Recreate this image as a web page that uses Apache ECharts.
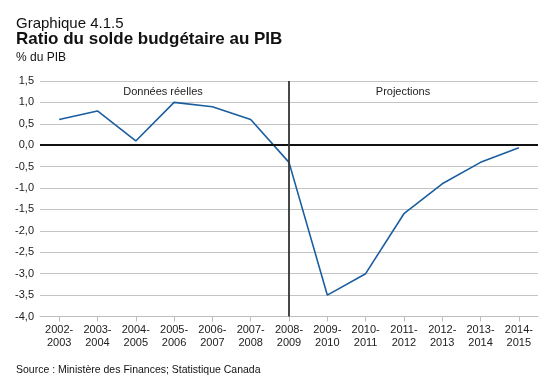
<!DOCTYPE html>
<html>
<head>
<meta charset="utf-8">
<script src="https://cdn.jsdelivr.net/npm/echarts@6/dist/echarts.min.js"></script>
<style>
html,body{margin:0;padding:0;background:#fff;}
#c{width:560px;height:386px;}
</style>
</head>
<body>
<div id="c"></div>
<script>
const categories = ['2002-\n2003','2003-\n2004','2004-\n2005','2005-\n2006','2006-\n2007','2007-\n2008','2008-\n2009','2009-\n2010','2010-\n2011','2011-\n2012','2012-\n2013','2013-\n2014','2014-\n2015'];
const ratioValues = [0.6, 0.8, 0.1, 1.0, 0.9, 0.6, -0.4, -3.5, -3.0, -1.6, -0.9, -0.4, -0.06];
const yMin = -4.0, yMax = 1.5, yStep = 0.5;
const dividerCategory = '2008-\n2009';
const titleMain = 'Graphique 4.1.5';
const titleSub = 'Ratio du solde budgétaire au PIB';
const unitLabel = '% du PIB';
const sourceText = 'Source : Ministère des Finances; Statistique Canada';
const leftNote = 'Données réelles';
const rightNote = 'Projections';

const font = '"Liberation Sans", Arial, sans-serif';
const chart = echarts.init(document.getElementById('c'), null, {renderer:'canvas'});
chart.setOption({
  animation: false,
  backgroundColor: '#fff',
  textStyle: {fontFamily: font},
  grid: {left: 40, right: 22, top: 81, bottom: 69.5, containLabel: false},
  xAxis: {
    type: 'category',
    data: categories,
    boundaryGap: true,
    axisLine: {show: true, onZero: false, lineStyle: {color: '#bdbdbd', width: 1}},
    axisTick: {show: true, alignWithLabel: true, length: 5, lineStyle: {color: '#bdbdbd'}},
    axisLabel: {color: '#222', fontSize: 11, lineHeight: 13, margin: 7, fontFamily: font, interval: 0},
    splitLine: {show: false}
  },
  yAxis: {
    type: 'value',
    min: yMin, max: yMax, interval: yStep,
    axisLine: {show: false},
    axisTick: {show: false},
    axisLabel: {color: '#222', fontSize: 11, margin: 6, fontFamily: font,
      formatter: v => v.toFixed(1).replace('.', ',')},
    splitLine: {show: true, lineStyle: {color: '#c4c4c4', width: 1}}
  },
  series: [{
    type: 'line',
    data: ratioValues,
    symbol: 'none',
    lineStyle: {color: '#1b5e9f', width: 1.6},
    z: 3,
    markLine: {
      silent: true,
      symbol: 'none',
      label: {show: false},
      data: [
        {yAxis: 0, lineStyle: {color: '#111', width: 2, type: 'solid'}},
        {xAxis: dividerCategory, lineStyle: {color: '#333', width: 1.8, type: 'solid'}}
      ]
    }
  }],
  graphic: [
    {type: 'text', left: 16, top: 16, style: {text: titleMain, font: '15px ' + font, fill: '#111'}},
    {type: 'text', left: 16, top: 31, style: {text: titleSub, font: 'bold 17px ' + font, fill: '#111'}},
    {type: 'text', left: 16, top: 52, style: {text: unitLabel, font: '12px ' + font, fill: '#111'}},
    {type: 'text', left: 16, top: 365, style: {text: sourceText, font: '10.5px ' + font, fill: '#111'}},
    {type: 'text', x: 163, y: 86, style: {text: leftNote, font: '11px ' + font, fill: '#222', align: 'center'}},
    {type: 'text', x: 403, y: 86, style: {text: rightNote, font: '11px ' + font, fill: '#222', align: 'center'}}
  ]
});
</script>
</body>
</html>
